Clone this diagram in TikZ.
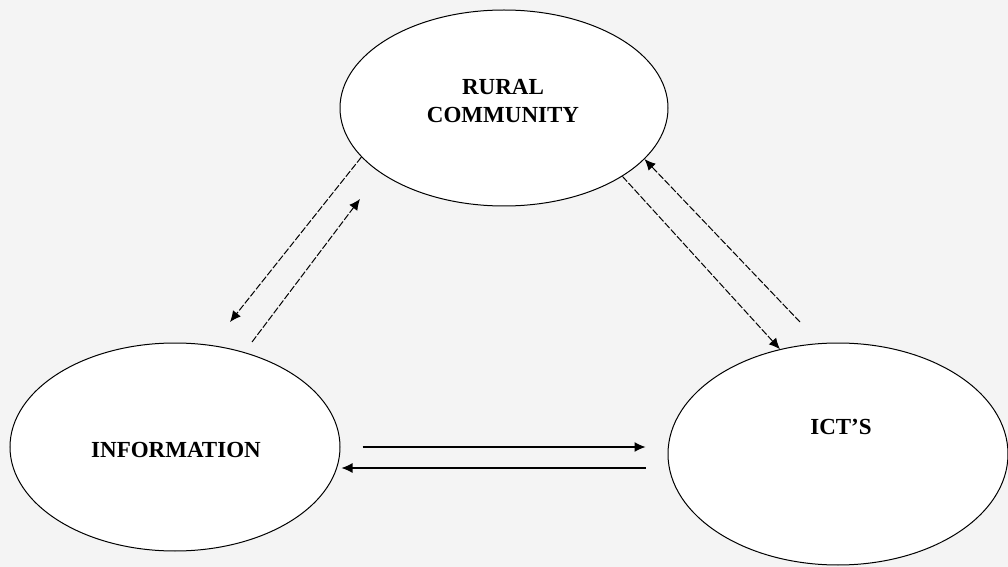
\documentclass[tikz,border=0pt]{standalone}
\usepackage{fontspec}
\setmainfont{Liberation Serif}
\usepackage{tikz}
\usetikzlibrary{arrows.meta,shapes.geometric}
\definecolor{lgray}{RGB}{244, 244, 244}

\begin{document}
\begin{tikzpicture}[x = 0.5pt, y = -0.5pt, font = \fontsize{11.5}{14}\selectfont\bfseries]
			\fill[lgray] (0,0) rectangle (1008,567);
			\useasboundingbox (0,0) rectangle (1008,567);
			\node (rural) at (504,108) [ellipse, draw, fill = white, line width = 0.5pt, minimum width = 164pt, minimum height = 98pt] {};
			\node (info) at (175,447) [ellipse, draw, fill = white, line width = 0.5pt, minimum width = 165pt, minimum height = 104pt] {};
			\node (ict) at (838,454) [ellipse, draw, fill = white, line width = 0.5pt, minimum width = 170pt, minimum height = 111pt] {};
			\node (rurallbl) at (503,101) [align = center] {RURAL\\COMMUNITY};
			\node (infolbl) at (176,450) {INFORMATION};
			\node (ictlbl) at (841,427) {ICT'S};
			\draw[dash pattern = on 3.5pt off 1pt, line width = 0.5pt, -{Latex[length = 5.5pt, width = 5pt]}] (rural.199) -- ([shift = {(55,-125)}]info.center);
			\draw[dash pattern = on 3.5pt off 1pt, line width = 0.5pt, -{Latex[length = 5.5pt, width = 5pt]}] ([shift = {(77,-105)}]info.center) -- ([shift = {(-144,91)}]rural.center);
			\draw[dash pattern = on 3.5pt off 1pt, line width = 0.5pt, -{Latex[length = 5.5pt, width = 5pt]}] (rural.330) -- (ict.119);
			\draw[dash pattern = on 3.5pt off 1pt, line width = 0.5pt, -{Latex[length = 5.5pt, width = 5pt]}] ([shift = {(-38,-132)}]ict.center) -- (rural.340);
			\draw[line width = 0.6pt, -{Latex[length = 5.5pt, width = 5pt]}] ([xshift = 11pt]info.east) -- ([shift = {(-22,-7)}]ict.west);
			\draw[line width = 0.6pt, -{Latex[length = 5.5pt, width = 5pt]}] ([shift = {(-22,14)}]ict.west) -- ([shift = {(1,21)}]info.east);
\end{tikzpicture}
\end{document}
